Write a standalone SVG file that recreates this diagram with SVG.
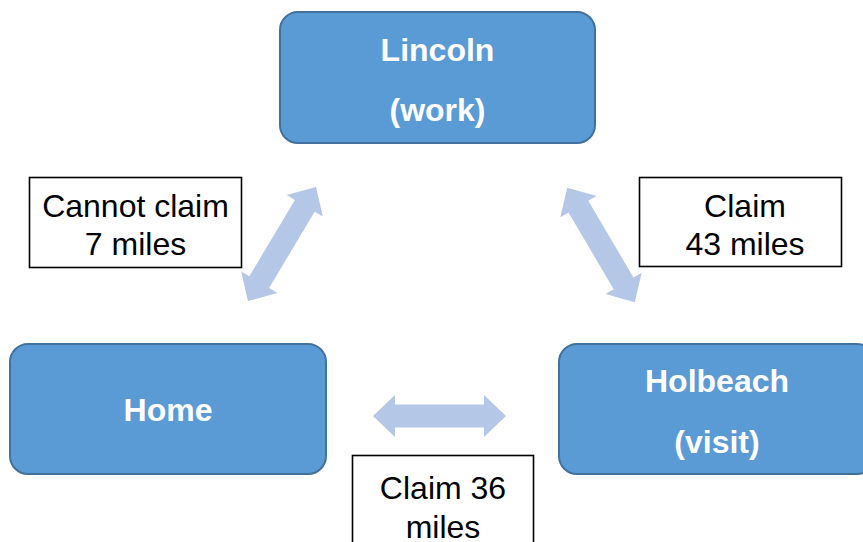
<svg xmlns="http://www.w3.org/2000/svg" width="863" height="542" viewBox="0 0 863 542">
<defs>
<style>
.node{fill:#5B9BD5;stroke:#41719C;stroke-width:2}
.nt{font-family:"Liberation Sans",Arial,sans-serif;font-weight:bold;font-size:32px;fill:#FFFFFF;text-anchor:middle}
.lbl{fill:#FFFFFF;stroke:#000000;stroke-width:1.6}
.lt{font-family:"Liberation Sans",Arial,sans-serif;font-size:32px;fill:#000000;text-anchor:middle}
.arr{fill:#B4C7E7}
</style>
<path id="dbl" d="M-66.5,0 L-44.5,-21 L-44.5,-11.5 L44.5,-11.5 L44.5,-21 L66.5,0 L44.5,21 L44.5,11.5 L-44.5,11.5 L-44.5,21 Z"/>
</defs>
<rect width="863" height="542" fill="#FFFFFF"/>
<g id="connectors">
<use href="#dbl" class="arr" transform="translate(282,244) rotate(-59.2)"/>
<use href="#dbl" class="arr" transform="translate(601,245) rotate(59.5)"/>
<use href="#dbl" class="arr" transform="translate(439.5,416)"/>
</g>
<g id="lincoln">
<rect class="node" x="280" y="12" width="315" height="131" rx="18"/>
<text class="nt" x="437.5" y="60.5">Lincoln</text>
<text class="nt" x="437.5" y="120.5">(work)</text>
</g>
<g id="home">
<rect class="node" x="10" y="344" width="316" height="130" rx="18"/>
<text class="nt" x="168" y="421">Home</text>
</g>
<g id="holbeach">
<rect class="node" x="559" y="344" width="316" height="130" rx="18"/>
<text class="nt" x="717" y="392">Holbeach</text>
<text class="nt" x="717" y="452.5">(visit)</text>
</g>
<g id="label-cannot-claim">
<rect class="lbl" x="29.5" y="177.5" width="212" height="90"/>
<text class="lt" x="135.5" y="216.5">Cannot claim</text>
<text class="lt" x="135.5" y="255">7 miles</text>
</g>
<g id="label-claim-43">
<rect class="lbl" x="639.5" y="177.5" width="202" height="89"/>
<text class="lt" x="745" y="216.5">Claim</text>
<text class="lt" x="745" y="255">43 miles</text>
</g>
<g id="label-claim-36">
<rect class="lbl" x="352.5" y="455.5" width="181" height="100"/>
<text class="lt" x="443" y="499">Claim 36</text>
<text class="lt" x="443" y="537.5">miles</text>
</g>
</svg>
